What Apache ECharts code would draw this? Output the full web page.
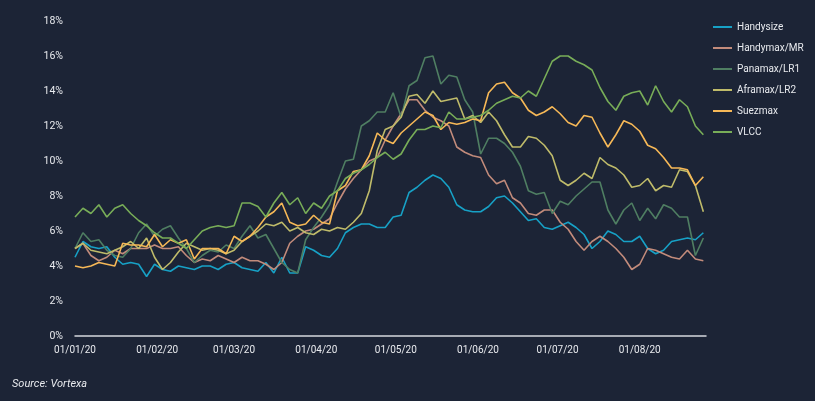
<!DOCTYPE html>
<html>
<head>
<meta charset="utf-8">
<script src="https://cdn.jsdelivr.net/npm/echarts@6/dist/echarts.min.js"></script>
<style>
html,body{margin:0;padding:0;background:#1c2436;}
#wrap{position:relative;width:815px;height:401px;box-sizing:border-box;border-left:1px solid #b9bec8;border-right:2px solid #b9bec8;border-bottom:2px solid #b9bec8;background:#1c2436;}
#chart{position:absolute;left:-1px;top:0;width:815px;height:401px;}
</style>
</head>
<body>
<div id="wrap"><div id="chart"></div></div>
<script>
// Sample spacing (days) between readings, first reading on 01/01/20
var startDate = Date.UTC(2020, 0, 1);
var totalDays = 239; // 01/01/20 .. 26/08/20
var sampleStep = 3;

var seriesNames = ['Handysize', 'Handymax/MR', 'Panamax/LR1', 'Aframax/LR2', 'Suezmax', 'VLCC'];
var yTicks = [0, 2, 4, 6, 8, 10, 12, 14, 16, 18];

var handysize = [4.5,5.4,5.1,5.0,5.1,4.5,4.1,4.2,4.1,3.4,
  4.1,3.8,3.7,4.0,3.9,3.8,4.0,4.0,3.8,4.1,
  4.2,3.9,3.8,3.7,4.2,3.6,4.5,3.6,3.6,5.1,
  4.9,4.6,4.5,5.0,5.9,6.2,6.4,6.4,6.2,6.2,
  6.8,6.9,8.2,8.5,8.9,9.2,9.0,8.5,7.5,7.2,
  7.1,7.1,7.4,7.9,8.0,7.6,7.1,6.6,6.7,6.2,
  6.1,6.3,6.5,6.2,5.8,5.0,5.4,6.0,5.8,5.4,
  5.4,5.7,5.0,4.7,4.9,5.4,5.5,5.6,5.5,5.9];

var handymax = [5.0,5.3,4.6,4.3,4.5,4.9,4.7,5.0,5.0,5.0,
  5.2,5.0,5.0,5.1,4.6,4.2,4.4,4.3,4.6,4.4,
  4.2,4.5,4.3,4.3,4.1,3.8,4.2,5.3,5.7,6.0,
  6.1,6.4,6.7,7.6,8.4,9.0,9.5,10.0,10.2,11.2,
  12.0,12.7,13.5,13.5,12.9,12.5,12.3,12.0,10.8,10.5,
  10.3,10.2,9.2,8.7,8.9,7.9,7.6,7.0,6.9,7.2,
  7.2,6.5,6.1,5.4,4.9,5.4,5.7,5.4,5.0,4.5,
  3.8,4.1,5.0,4.9,4.7,4.5,4.4,4.9,4.4,4.3];

var panamax = [5.0,5.9,5.4,5.5,4.9,4.6,4.5,5.0,5.9,6.4,
  5.7,6.1,6.3,5.6,5.0,4.2,4.6,4.9,4.8,5.2,
  5.0,5.7,6.3,5.6,5.8,5.0,4.2,3.8,3.6,5.5,
  6.2,6.8,7.5,8.8,10.0,10.1,12.0,12.3,12.8,12.8,
  13.9,12.5,14.3,14.6,15.9,16.0,14.4,14.9,14.8,13.5,
  12.8,10.4,11.3,11.3,11.0,10.5,9.7,8.3,8.1,8.2,
  7.0,7.7,7.5,8.0,8.4,8.8,8.8,7.2,6.4,7.2,
  7.6,6.6,7.3,6.7,7.5,7.3,6.8,6.8,4.6,5.6];

var aframax = [5.0,5.3,4.9,4.8,4.7,4.9,5.1,5.4,5.0,5.6,
  4.5,3.8,4.2,4.8,5.3,5.1,4.9,5.0,4.9,4.7,
  4.9,5.4,5.7,6.0,6.4,6.3,6.5,6.0,6.2,5.9,
  5.8,6.1,6.0,6.2,6.1,6.5,7.0,8.3,10.6,11.8,
  12.0,12.5,13.7,13.8,13.3,14.0,13.4,13.5,13.6,12.4,
  12.6,12.2,12.8,12.3,11.5,10.8,10.8,11.4,11.3,10.9,
  10.3,8.9,8.6,8.9,9.3,9.0,10.2,9.8,9.6,9.2,
  8.5,8.6,9.0,8.3,8.6,8.5,9.5,9.4,8.6,7.1];

var suezmax = [4.0,3.9,4.0,4.2,4.1,4.0,5.3,5.2,5.2,5.1,
  5.8,5.1,5.5,5.3,5.5,4.4,5.0,5.0,5.0,4.7,
  5.7,5.4,5.7,6.2,6.8,7.1,7.6,6.5,6.3,6.4,
  6.9,6.5,6.4,8.3,8.6,9.4,9.5,10.3,11.6,11.2,
  11.0,11.6,12.0,12.4,12.8,12.6,11.8,12.2,12.1,12.2,
  12.4,12.3,13.9,14.4,14.5,13.9,13.6,12.9,12.6,12.8,
  13.1,12.7,12.2,12.0,12.6,12.5,11.6,10.8,11.5,12.3,
  12.1,11.7,10.9,10.7,10.2,9.6,9.6,9.5,8.6,9.1];

var vlcc = [6.8,7.3,7.0,7.5,6.8,7.3,7.5,7.0,6.6,6.3,
  5.9,5.6,5.6,5.3,5.0,5.5,6.0,6.2,6.3,6.2,
  6.3,7.6,7.6,7.4,6.8,7.6,8.2,7.5,7.9,7.0,
  7.6,7.3,8.0,8.3,9.0,9.3,9.5,9.8,10.2,10.5,
  10.1,10.4,11.2,11.8,11.8,12.0,11.9,12.8,12.4,12.4,
  12.5,12.6,12.9,13.3,13.5,13.7,13.6,14.0,13.7,14.7,
  15.7,16.0,16.0,15.7,15.5,15.2,14.2,13.4,12.9,13.7,
  13.9,14.0,13.2,14.3,13.4,12.8,13.5,13.1,12.0,11.5];

var colors = ['#17a1c6', '#c28b7b', '#4f7e62', '#bfbb6a', '#f6b857', '#78ad58'];

function pad(n){ return (n < 10 ? '0' : '') + n; }
var categories = [];
for (var d = 0; d < totalDays; d++) {
  var dt = new Date(startDate + d * 86400000);
  categories.push(pad(dt.getUTCDate()) + '/' + pad(dt.getUTCMonth() + 1) + '/' + String(dt.getUTCFullYear()).slice(2));
}

var allValues = [handysize, handymax, panamax, aframax, suezmax, vlcc];
var series = seriesNames.map(function (name, s) {
  return {
    name: name,
    type: 'line',
    showSymbol: false,
    symbol: 'none',
    lineStyle: { width: 1.6, color: colors[s] },
    itemStyle: { color: colors[s] },
    data: allValues[s].map(function (v, i) { return [i * sampleStep, v]; })
  };
});

var chart = echarts.init(document.getElementById('chart'));
chart.setOption({
  backgroundColor: '#1c2436',
  animation: false,
  textStyle: { fontFamily: 'Roboto' },
  grid: { left: 75, right: 109, top: 21, bottom: 65 },
  legend: {
    orient: 'vertical',
    left: 713,
    top: 20,
    padding: 0,
    icon: 'rect',
    itemWidth: 19,
    itemHeight: 2,
    itemGap: 7,
    data: seriesNames,
    textStyle: { color: '#e8eaee', fontSize: 10, lineHeight: 14 }
  },
  xAxis: {
    type: 'category',
    data: categories,
    boundaryGap: false,
    axisLine: { lineStyle: { color: '#d5d8de', width: 1.5 } },
    axisTick: { show: false },
    axisLabel: {
      color: '#e8eaee',
      fontSize: 10,
      margin: 9,
      interval: function (i, v) { return v.slice(0, 2) === '01'; }
    },
    splitLine: { show: false }
  },
  yAxis: {
    type: 'value',
    min: yTicks[0],
    max: yTicks[yTicks.length - 1],
    interval: 2,
    axisLine: { show: false },
    axisTick: { show: false },
    splitLine: { show: false },
    axisLabel: { color: '#e8eaee', fontSize: 10.5, margin: 12, formatter: '{value}%' }
  },
  graphic: [{
    type: 'text',
    left: 12,
    top: 379,
    style: { text: 'Source: Vortexa', fill: '#e8eaee', fontSize: 11, fontStyle: 'italic', fontFamily: 'Roboto' }
  }],
  series: series
});
</script>
</body>
</html>
